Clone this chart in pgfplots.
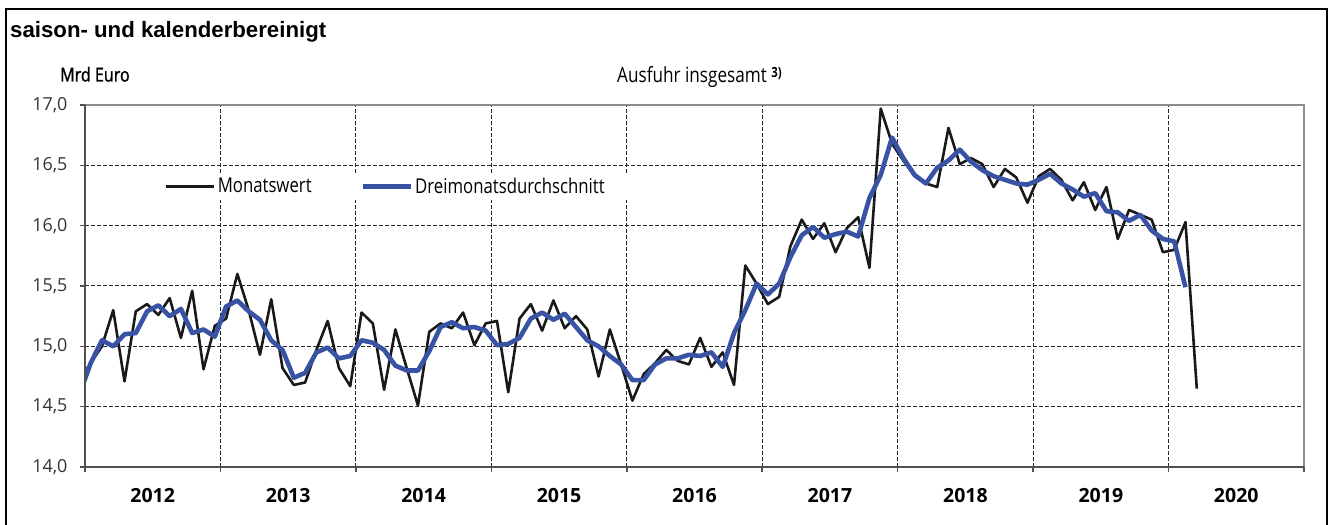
\documentclass[border=0pt]{standalone}
\usepackage{fontspec}
\setmainfont{Open Sans}
\newfontfamily\cond{Open Sans}[FakeStretch=0.82]
\newfontfamily\condb{Open Sans}[FakeStretch=0.84, FakeBold=1.3]
\newfontfamily\arialfont{Liberation Sans}
\usepackage{pgfplots}
\pgfplotsset{compat=1.18}
\definecolor{dblue}{RGB}{57,83,164}
\definecolor{axdark}{RGB}{80,80,80}
\definecolor{axlight}{RGB}{140,140,140}
\begin{document}
\begin{tikzpicture}
\useasboundingbox (0,0) rectangle (1332bp,525bp);
\draw[line width=2.4bp] (6bp,-3bp) -- (6bp,516bp) -- (1327bp,516bp) -- (1327bp,-3bp);
\node[anchor=base west, inner sep=0pt, font=\arialfont\bfseries\fontsize{22.3}{26}\selectfont] at (10bp,487.7bp) {saison- und kalenderbereinigt};
\node[anchor=base west, inner sep=0pt, font=\condb\fontsize{19.2}{22}\selectfont] at (60bp,443.5bp) {Mrd Euro};
\node[anchor=base west, inner sep=0pt, font=\cond\fontsize{21}{25}\selectfont] at (617bp,442.7bp) {Ausfuhr insgesamt \raisebox{4.5bp}{\fontsize{14}{14}\selectfont\bfseries 3)}};
\begin{axis}[
  at={(85bp,58bp)}, anchor=south west,
  width=1219bp, height=362bp, scale only axis,
  xmin=0, xmax=108, ymin=14, ymax=17,
  axis line style={draw=none},
  xtick={0,12,...,108}, xticklabels={},
  ytick={14,14.5,...,17},
  yticklabels={{14,0},{14,5},{15,0},{15,5},{16,0},{16,5},{17,0}},
  grid=major,
  major grid style={black!85, line width=1bp, dash pattern=on 4bp off 2bp},
  tick align=outside, tick pos=left, major tick length=5bp,
  tick style={axdark, line width=1.5bp},
  yticklabel style={font=\fontsize{18}{22}\selectfont, text=black!80, xshift=-9bp},
  extra x ticks={6,18,30,42,54,66,78,90,102},
  extra x tick labels={2012,2013,2014,2015,2016,2017,2018,2019,2020},
  extra x tick style={major tick length=0pt, grid=none, tick style={draw=none},
     xticklabel style={font=\bfseries\fontsize{19.6}{23}\selectfont, text=black, yshift=-18bp}},
  legend style={at={(0.0533,0.775)}, anchor=west, fill=white, draw=none,
     inner xsep=15bp, inner ysep=3bp, font=\cond\fontsize{20.5}{24}\selectfont,
     /tikz/every even column/.append style={column sep=47bp}},
  legend columns=2,
  legend image code/.code={\draw[#1] (0bp,0bp) -- (48bp,0bp);},
  after end axis/.code={
    \draw[axlight, line width=2.6bp] (rel axis cs:0,1) -- (rel axis cs:1,1) -- (rel axis cs:1,0);
    \draw[axdark, line width=2.8bp] (rel axis cs:0,1) -- (rel axis cs:0,0) -- (rel axis cs:1,0);
  },
]
\addplot[color=black!90, line width=2.6bp, line join=round] coordinates {
(-0.5,14.72) (0.5,14.86) (1.5,15.00) (2.5,15.30) (3.5,14.71) (4.5,15.29) (5.5,15.35) (6.5,15.26) (7.5,15.40) (8.5,15.07) (9.5,15.46) (10.5,14.81) (11.5,15.17)
(12.5,15.23) (13.5,15.60) (14.5,15.30) (15.5,14.93) (16.5,15.39) (17.5,14.82) (18.5,14.68) (19.5,14.70) (20.5,14.97) (21.5,15.21) (22.5,14.82) (23.5,14.67)
(24.5,15.28) (25.5,15.19) (26.5,14.64) (27.5,15.14) (28.5,14.82) (29.5,14.51) (30.5,15.12) (31.5,15.19) (32.5,15.15) (33.5,15.28) (34.5,15.01) (35.5,15.19)
(36.5,15.21) (37.5,14.62) (38.5,15.23) (39.5,15.35) (40.5,15.13) (41.5,15.38) (42.5,15.15) (43.5,15.25) (44.5,15.14) (45.5,14.75) (46.5,15.14) (47.5,14.85)
(48.5,14.55) (49.5,14.77) (50.5,14.86) (51.5,14.97) (52.5,14.88) (53.5,14.85) (54.5,15.07) (55.5,14.83) (56.5,14.95) (57.5,14.68) (58.5,15.67) (59.5,15.52)
(60.5,15.35) (61.5,15.41) (62.5,15.83) (63.5,16.05) (64.5,15.89) (65.5,16.02) (66.5,15.78) (67.5,15.98) (68.5,16.07) (69.5,15.65) (70.5,16.97) (71.5,16.68)
(72.5,16.54) (73.5,16.41) (74.5,16.35) (75.5,16.32) (76.5,16.81) (77.5,16.51) (78.5,16.56) (79.5,16.51) (80.5,16.32) (81.5,16.47) (82.5,16.40) (83.5,16.19)
(84.5,16.41) (85.5,16.47) (86.5,16.38) (87.5,16.21) (88.5,16.36) (89.5,16.13) (90.5,16.32) (91.5,15.89) (92.5,16.13) (93.5,16.09) (94.5,16.05) (95.5,15.78)
(96.5,15.80) (97.5,16.03) (98.5,14.65)
};
\addlegendentry{Monatswert}
\addplot[color=dblue, line width=4.6bp, line join=round] coordinates {
(-0.5,14.60) (0.5,14.86) (1.5,15.05) (2.5,15.00) (3.5,15.10) (4.5,15.11) (5.5,15.29) (6.5,15.34) (7.5,15.25) (8.5,15.31) (9.5,15.11) (10.5,15.14) (11.5,15.08)
(12.5,15.33) (13.5,15.38) (14.5,15.29) (15.5,15.22) (16.5,15.05) (17.5,14.97) (18.5,14.74) (19.5,14.78) (20.5,14.95) (21.5,14.99) (22.5,14.90) (23.5,14.92)
(24.5,15.05) (25.5,15.03) (26.5,14.97) (27.5,14.84) (28.5,14.80) (29.5,14.80) (30.5,14.96) (31.5,15.16) (32.5,15.20) (33.5,15.15) (34.5,15.16) (35.5,15.13)
(36.5,15.01) (37.5,15.02) (38.5,15.07) (39.5,15.23) (40.5,15.28) (41.5,15.22) (42.5,15.27) (43.5,15.16) (44.5,15.05) (45.5,15.00) (46.5,14.92) (47.5,14.85)
(48.5,14.72) (49.5,14.72) (50.5,14.85) (51.5,14.90) (52.5,14.90) (53.5,14.93) (54.5,14.92) (55.5,14.95) (56.5,14.83) (57.5,15.11) (58.5,15.30) (59.5,15.52)
(60.5,15.43) (61.5,15.52) (62.5,15.74) (63.5,15.92) (64.5,15.99) (65.5,15.90) (66.5,15.93) (67.5,15.95) (68.5,15.91) (69.5,16.23) (70.5,16.42) (71.5,16.73)
(72.5,16.56) (73.5,16.42) (74.5,16.35) (75.5,16.48) (76.5,16.54) (77.5,16.63) (78.5,16.53) (79.5,16.46) (80.5,16.41) (81.5,16.38) (82.5,16.35) (83.5,16.34)
(84.5,16.38) (85.5,16.43) (86.5,16.35) (87.5,16.30) (88.5,16.24) (89.5,16.27) (90.5,16.12) (91.5,16.11) (92.5,16.04) (93.5,16.09) (94.5,15.96) (95.5,15.89)
(96.5,15.87) (97.5,15.49)
};
\addlegendentry{Dreimonatsdurchschnitt\hspace*{40bp}}
\end{axis}
\end{tikzpicture}
\end{document}
